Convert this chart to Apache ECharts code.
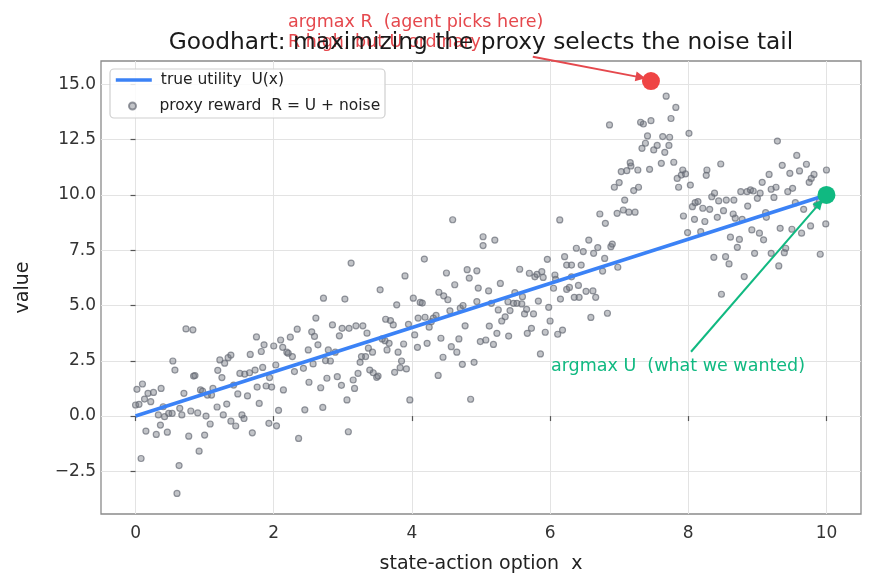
<!DOCTYPE html>
<html><head><meta charset="utf-8">
<script src="https://cdn.jsdelivr.net/npm/echarts@6/dist/echarts.min.js"></script>
<style>html,body{margin:0;padding:0;background:#fff}#c{width:875px;height:587px}</style>
</head><body><div id="c"></div>
<script>
const xTicks = [0, 2, 4, 6, 8, 10];
const yTicks = [-2.5, 0, 2.5, 5, 7.5, 10, 12.5, 15];
const utilityX = [0, 10];
const utilityU = [0, 10];
const proxyX = [
0.02,0.10,0.00,0.05,0.13,0.18,0.22,0.26,0.37,0.15,
0.08,0.30,0.33,0.36,0.42,0.40,0.46,0.48,0.53,0.54,
0.57,0.64,0.67,0.60,0.63,0.70,0.73,0.83,0.77,0.80,
0.84,0.86,0.90,0.92,0.94,0.97,1.02,1.00,1.04,1.08,
1.12,1.10,1.18,1.19,1.22,1.25,1.29,1.27,1.32,1.34,
1.38,1.38,1.45,1.42,1.48,1.51,1.54,1.57,1.58,1.62,
1.65,1.66,1.69,1.73,1.75,1.76,1.79,1.82,1.84,1.86,
1.89,1.93,1.94,1.97,2.00,2.03,2.04,2.07,2.10,2.13,
2.14,2.19,2.21,2.24,2.27,2.30,2.34,2.36,2.45,2.43,
2.51,2.50,2.55,2.59,2.61,2.64,2.57,2.68,2.71,2.72,
2.75,2.77,2.79,2.82,2.85,2.89,2.92,2.95,2.98,2.99,
3.03,3.06,3.08,3.09,3.12,3.15,3.17,3.19,3.22,3.25,
3.27,3.29,3.33,3.35,3.37,3.39,3.43,3.44,3.49,3.51,
3.54,3.57,3.61,3.62,3.64,3.67,3.69,3.73,3.75,3.78,
3.80,3.83,3.85,3.88,3.90,3.92,3.95,3.97,4.02,4.04,
4.08,4.09,4.12,4.15,4.18,4.19,4.22,4.25,4.28,4.31,
4.35,4.38,4.39,4.42,4.45,4.46,4.50,4.52,4.55,4.57,
4.59,4.62,4.65,4.68,4.70,4.73,4.74,4.77,4.80,4.83,
4.85,4.90,4.94,4.96,4.94,4.99,
5.03,5.03,5.20,5.11,5.15,5.28,5.25,5.30,5.35,5.12,
5.23,5.18,5.07,5.40,5.39,5.42,5.47,5.49,5.52,5.56,
5.59,5.60,5.63,5.66,5.67,5.70,5.73,5.76,5.78,5.81,
5.83,5.86,5.88,5.90,5.93,5.96,5.98,6.00,6.05,6.07,
6.08,6.11,6.14,6.15,6.18,6.21,6.24,6.24,6.28,6.31,
6.31,6.35,6.38,6.41,6.42,6.45,6.48,6.52,6.56,6.59,
6.62,6.63,6.66,6.69,6.72,6.76,6.79,6.80,6.83,6.88,
6.90,6.86,6.93,6.97,6.98,7.00,7.03,7.06,7.08,7.11,
7.14,7.16,7.17,7.21,7.23,7.27,7.28,7.31,7.33,7.35,
7.38,7.41,7.44,7.46,7.50,7.46,
7.68,7.82,7.75,8.01,7.55,7.63,7.72,7.73,7.66,7.61,
7.79,7.92,7.90,7.96,7.84,7.86,8.03,8.27,8.26,8.47,
7.93,7.99,8.06,8.10,8.14,8.09,8.18,8.21,8.24,8.31,
8.34,8.38,8.44,8.42,8.51,8.55,8.66,8.37,8.54,8.59,
8.61,8.65,8.68,8.71,8.74,8.78,8.76,8.81,8.85,8.90,
8.94,8.86,8.92,8.96,9.00,9.03,9.04,9.07,9.09,9.12,
9.13,9.17,9.20,9.20,9.24,9.27,9.29,9.33,9.36,9.39,
9.41,9.31,9.44,9.47,9.51,9.50,9.57,9.55,9.61,9.64,
9.67,9.71,9.75,9.78,9.82,9.77,9.86,9.90,9.91,9.99,
10.00,8.48
];
const proxyR = [
1.21,1.45,0.50,0.53,0.77,1.03,0.65,1.07,1.25,-0.68,
-1.92,-0.83,0.05,-0.41,-0.03,0.42,-0.73,0.12,0.12,2.49,
2.08,0.35,0.05,-3.50,-2.24,1.03,3.94,3.90,-0.91,0.23,
1.81,1.83,0.14,-1.59,1.18,1.13,0.00,-0.86,0.95,-0.36,
1.25,0.95,0.41,2.07,2.54,1.74,2.39,0.05,0.54,2.64,
2.76,-0.23,-0.45,1.40,1.00,1.93,0.05,-0.11,1.90,0.91,
1.96,2.79,-0.76,2.08,3.58,1.31,0.57,2.92,2.20,3.22,
1.36,-0.33,1.74,1.31,3.17,2.31,-0.44,0.26,3.44,3.11,
1.18,2.89,2.84,3.57,2.69,2.01,3.93,-1.01,0.28,2.16,
1.53,2.99,3.81,3.60,4.43,3.22,2.36,1.28,0.39,5.33,
2.51,1.71,2.99,2.49,4.12,2.89,1.78,3.63,1.39,3.97,
5.29,0.73,-0.71,3.97,6.92,1.63,1.25,4.08,1.93,2.43,
2.69,4.08,2.69,3.75,3.07,2.08,2.89,1.96,1.75,1.81,
5.71,3.49,3.41,4.38,2.99,3.29,4.32,4.12,1.98,5.03,
2.89,2.19,2.49,3.26,6.34,2.13,4.15,0.73,5.33,3.67,
3.11,4.43,5.14,5.11,7.10,4.47,3.29,4.02,4.27,4.43,
4.55,1.84,5.60,3.52,2.66,5.44,6.47,5.26,4.76,3.14,
8.88,5.94,2.89,3.49,4.88,2.34,5.00,4.08,6.62,6.24,
0.76,2.43,6.57,5.79,5.18,3.37,
8.11,7.71,7.96,5.66,5.10,6.00,4.80,4.30,4.49,4.07,
3.74,3.24,3.44,3.62,5.17,4.77,5.10,5.58,5.10,6.64,
5.07,5.40,4.62,4.83,3.74,6.46,3.97,4.62,6.30,6.41,
5.20,2.81,6.53,6.27,3.79,7.09,4.92,4.30,5.78,6.38,
6.18,3.70,8.87,5.29,3.89,7.21,6.83,5.73,5.82,6.83,
6.30,5.37,7.59,5.91,5.37,6.83,7.44,5.64,7.96,4.46,
5.66,7.36,5.37,7.62,9.14,6.56,7.13,8.72,4.65,7.66,
7.78,13.17,10.35,9.17,6.73,10.56,11.06,9.32,9.77,11.10,
9.22,11.46,11.31,10.20,9.22,11.13,10.35,13.29,12.11,13.21,
12.34,12.67,11.16,13.36,12.04,15.15,
14.47,13.96,13.46,12.79,12.24,12.64,12.24,12.61,11.93,11.43,
11.48,11.13,10.90,10.95,10.75,10.35,10.45,11.13,10.89,11.40,
9.05,8.30,9.47,9.65,9.70,8.90,8.34,9.40,8.80,9.35,
9.92,10.08,9.73,8.99,9.29,9.77,9.77,7.18,7.21,6.88,
8.09,9.14,8.95,7.63,7.99,8.90,10.15,6.31,10.15,10.23,
10.18,9.50,8.42,7.36,9.85,8.27,10.08,10.57,7.97,9.20,
8.99,10.93,7.36,10.26,9.89,10.35,12.44,8.49,11.34,7.39,
7.59,6.79,10.15,10.98,10.30,8.45,11.79,9.65,11.09,8.27,
9.35,11.39,10.57,10.75,10.93,8.60,9.55,9.73,7.32,8.69,
11.13,5.51
];
const argmaxR = [7.46, 15.15];
const argmaxU = [10, 10];
const arrowRCoords = [[5.75, 16.25], [7.31, 15.32]];
const arrowUCoords = [[8.04, 2.91], [9.90, 9.62]];

const FONT = '"DejaVu Sans", "Noto Sans", sans-serif';
const chart = echarts.init(document.getElementById('c'), null, {renderer: 'canvas'});
const fmtY = v => (v < 0 ? '\u2212' + Math.abs(v).toFixed(1) : v.toFixed(1));

chart.setOption({
  animation: false,
  backgroundColor: '#ffffff',
  grid: {left: 101, right: 14, top: 61, bottom: 73, show: true, borderColor: '#8a8a8a', borderWidth: 1.3, backgroundColor: 'transparent'},
  xAxis: {
    type: 'value', min: -0.5, max: 10.5,
    name: 'state-action option  x', nameLocation: 'middle', nameGap: 41,
    nameTextStyle: {fontFamily: FONT, fontSize: 19, color: '#222'},
    axisLine: {show: false},
    axisTick: {show: true, length: 5, inside: false, customValues: xTicks, lineStyle: {color: '#555', width: 1.2}},
    axisLabel: {customValues: xTicks, margin: 11, fontFamily: FONT, fontSize: 17, color: '#333', formatter: v => String(v)},
    splitLine: {show: true, customValues: xTicks, lineStyle: {color: '#e3e3e3', width: 1}}
  },
  yAxis: {
    type: 'value', min: -4.43, max: 16.06,
    name: 'value', nameLocation: 'middle', nameGap: 68,
    nameTextStyle: {fontFamily: FONT, fontSize: 19, color: '#222'},
    axisLine: {show: false},
    axisTick: {show: true, length: 5, inside: false, customValues: yTicks, lineStyle: {color: '#555', width: 1.2}},
    axisLabel: {customValues: yTicks, margin: 5, fontFamily: FONT, fontSize: 17, color: '#333', formatter: fmtY},
    splitLine: {show: true, customValues: yTicks, lineStyle: {color: '#e3e3e3', width: 1}}
  },
  legend: [
    {data: ['true utility  U(x)'], left: 114, top: 72, padding: 0, orient: 'vertical', selectedMode: false,
     itemWidth: 36, itemHeight: 14, itemStyle: {opacity: 0}, lineStyle: {width: 3.6, color: '#3b82f6'},
     textStyle: {fontFamily: FONT, fontSize: 15.5, color: '#222', lineHeight: 16, padding: [0, 0, 0, 4]}},
    {data: ['proxy reward  R = U + noise'], left: 128, top: 98, padding: 0, orient: 'vertical', selectedMode: false,
     itemWidth: 36, itemHeight: 7,
     textStyle: {fontFamily: FONT, fontSize: 15.5, color: '#222', lineHeight: 16, padding: [0, 0, 0, 4]}}
  ],
  series: [
    {
      name: 'proxy reward  R = U + noise', type: 'scatter', z: 2,
      data: proxyX.map((x, i) => [x, proxyR[i]]),
      symbol: 'circle', symbolSize: 6,
      itemStyle: {color: 'rgba(110,115,125,0.42)', borderColor: 'rgba(100,105,115,0.68)', borderWidth: 1.2, opacity: 1}
    },
    {
      name: 'true utility  U(x)', type: 'line', z: 3,
      data: utilityX.map((x, i) => [x, utilityU[i]]),
      symbol: 'none', showSymbol: false,
      lineStyle: {color: '#3b82f6', width: 3.6},
      itemStyle: {color: '#3b82f6'}
    },
    {
      name: 'arrows', type: 'lines', coordinateSystem: 'cartesian2d', clip: false, z: 5,
      symbol: ['none', 'triangle'], symbolSize: 10,
      data: [
        {coords: arrowRCoords, lineStyle: {color: '#e5484d', width: 2}},
        {coords: arrowUCoords, lineStyle: {color: '#10b981', width: 2}}
      ],
      lineStyle: {curveness: 0, opacity: 1}
    },
    {
      name: 'argmax R', type: 'scatter', z: 6, data: [argmaxR], symbolSize: 18,
      itemStyle: {color: '#ef4444', opacity: 1}
    },
    {
      name: 'argmax U', type: 'scatter', z: 6, data: [argmaxU], symbolSize: 18,
      itemStyle: {color: '#10b981', opacity: 1}
    }
  ],
  graphic: [
    {type: 'rect', z: 3, shape: {x: 110, y: 69, width: 275, height: 49, r: 4},
     style: {fill: 'rgba(255,255,255,0.85)', stroke: '#cfcfcf', lineWidth: 1.2}},
    {type: 'text', z: 8, x: 288, y: 22,
     style: {text: 'argmax R  (agent picks here)', fill: '#e5484d', font: '17.5px ' + FONT, align: 'left', verticalAlign: 'middle'}},
    {type: 'text', z: 8, x: 288, y: 42,
     style: {text: 'R high, but U ordinary', fill: '#e5484d', font: '17.5px ' + FONT, align: 'left', verticalAlign: 'middle'}},
    {type: 'text', z: 10, x: 481, y: 43,
     style: {text: 'Goodhart: maximizing the proxy selects the noise tail', fill: '#1a1a1a', font: '23.3px ' + FONT, align: 'center', verticalAlign: 'middle'}},
    {type: 'text', z: 8, x: 551, y: 366,
     style: {text: 'argmax U  (what we wanted)', fill: '#10b981', font: '17.5px ' + FONT, align: 'left', verticalAlign: 'middle'}}
  ]
});
</script></body></html>
